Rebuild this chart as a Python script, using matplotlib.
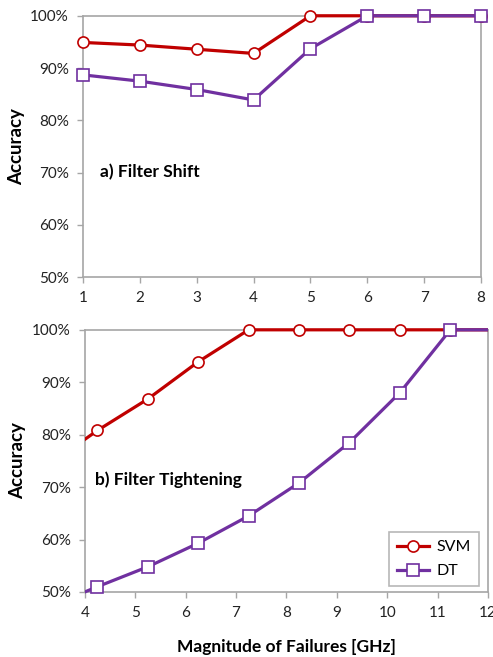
import numpy as np
import matplotlib
matplotlib.use("Agg")
import matplotlib.pyplot as plt
from matplotlib.patches import Rectangle
from matplotlib.ticker import PercentFormatter

plt.rcParams["font.family"] = ["Lato", "DejaVu Sans"]

# ── Data ───────────────────────────────────────────────────────────────────────
shift_x   = [1, 2, 3, 4, 5, 6, 7, 8]
shift_svm = [94.9, 94.4, 93.6, 92.8, 100.0, 100.0, 100.0, 100.0]
shift_dt  = [88.7, 87.5, 85.9, 83.9, 93.7, 100.0, 100.0, 100.0]

# first and last points fall outside the visible range and are clipped
tight_x   = [3.25, 4.25, 5.25, 6.25, 7.25, 8.25, 9.25, 10.25, 11.25, 12.25]
tight_svm = [74.0, 80.8, 86.8, 93.9, 100.0, 100.0, 100.0, 100.0, 100.0, 100.0]
tight_dt  = [47.0, 51.0, 54.8, 59.3, 64.5, 70.8, 78.5, 88.0, 100.0, 100.0]

RED    = "#C00000"
PURPLE = "#7030A0"
SPINE  = "#A6A6A6"


def style_axes(ax, xlim, xticks):
    ax.set_xlim(*xlim)
    ax.set_ylim(50, 100)
    ax.set_xticks(xticks)
    ax.set_yticks(np.arange(50, 101, 10))
    ax.yaxis.set_major_formatter(PercentFormatter(decimals=0))
    for s in ax.spines.values():
        s.set_color(SPINE)
        s.set_linewidth(1.2)
    ax.tick_params(direction="out", length=4, width=1, color=SPINE,
                   labelsize=11, labelcolor="#222222", pad=6)
    ax.set_ylabel("Accuracy", fontsize=13.5, fontweight="bold", labelpad=4)


def draw(ax, x, svm, dt, xlim):
    # lines clip only at the left/right edges so 100% stays full width
    clip = Rectangle((0, -0.05), 1, 1.1, transform=ax.transAxes,
                     facecolor="none", edgecolor="none")
    x = np.asarray(x)
    keep = (x >= xlim[0]) & (x <= xlim[1])
    for y, c, m, lab in [(svm, RED, "o", "SVM"), (dt, PURPLE, "s", "DT")]:
        y = np.asarray(y)
        ln, = ax.plot(x, y, color=c, lw=2.3, zorder=3)
        ln.set_clip_path(clip)
        ax.plot(x[keep], y[keep], ls="none", marker=m, ms=8, mfc="white",
                mec=c, mew=1.2, clip_on=False, zorder=4)
        ax.plot([], [], color=c, lw=2.3, marker=m, ms=8, mfc="white",
                mec=c, mew=1.2, label=lab)
    ax.set_xlim(*xlim)


fig = plt.figure(figsize=(4.93, 6.57), dpi=100)

# ── a) Filter Shift ────────────────────────────────────────────────────────────
ax1 = fig.add_axes([0.168, 0.578, 0.808, 0.398])
draw(ax1, shift_x, shift_svm, shift_dt, (1, 8))
style_axes(ax1, (1, 8), shift_x)
ax1.text(0.043, 0.402, "a) Filter Shift", transform=ax1.transAxes,
         fontsize=12.5, fontweight="bold", va="center")

# ── b) Filter Tightening ──────────────────────────────────────────────────────
ax2 = fig.add_axes([0.172, 0.099, 0.818, 0.399])
draw(ax2, tight_x, tight_svm, tight_dt, (4, 12))
style_axes(ax2, (4, 12), range(4, 13))
ax2.text(0.025, 0.427, "b) Filter Tightening", transform=ax2.transAxes,
         fontsize=12.5, fontweight="bold", va="center")
ax2.set_xlabel("Magnitude of Failures [GHz]", fontsize=12.5,
               fontweight="bold", labelpad=14)
leg = ax2.legend(loc="lower right", bbox_to_anchor=(0.978, 0.022),
                 fontsize=11.5, frameon=True, fancybox=False,
                 handlelength=2.0, handletextpad=0.5, borderpad=0.5,
                 labelspacing=0.6, borderaxespad=0)
leg.get_frame().set_edgecolor(SPINE)
leg.get_frame().set_linewidth(1.2)

fig.savefig("out.png", dpi=100)
